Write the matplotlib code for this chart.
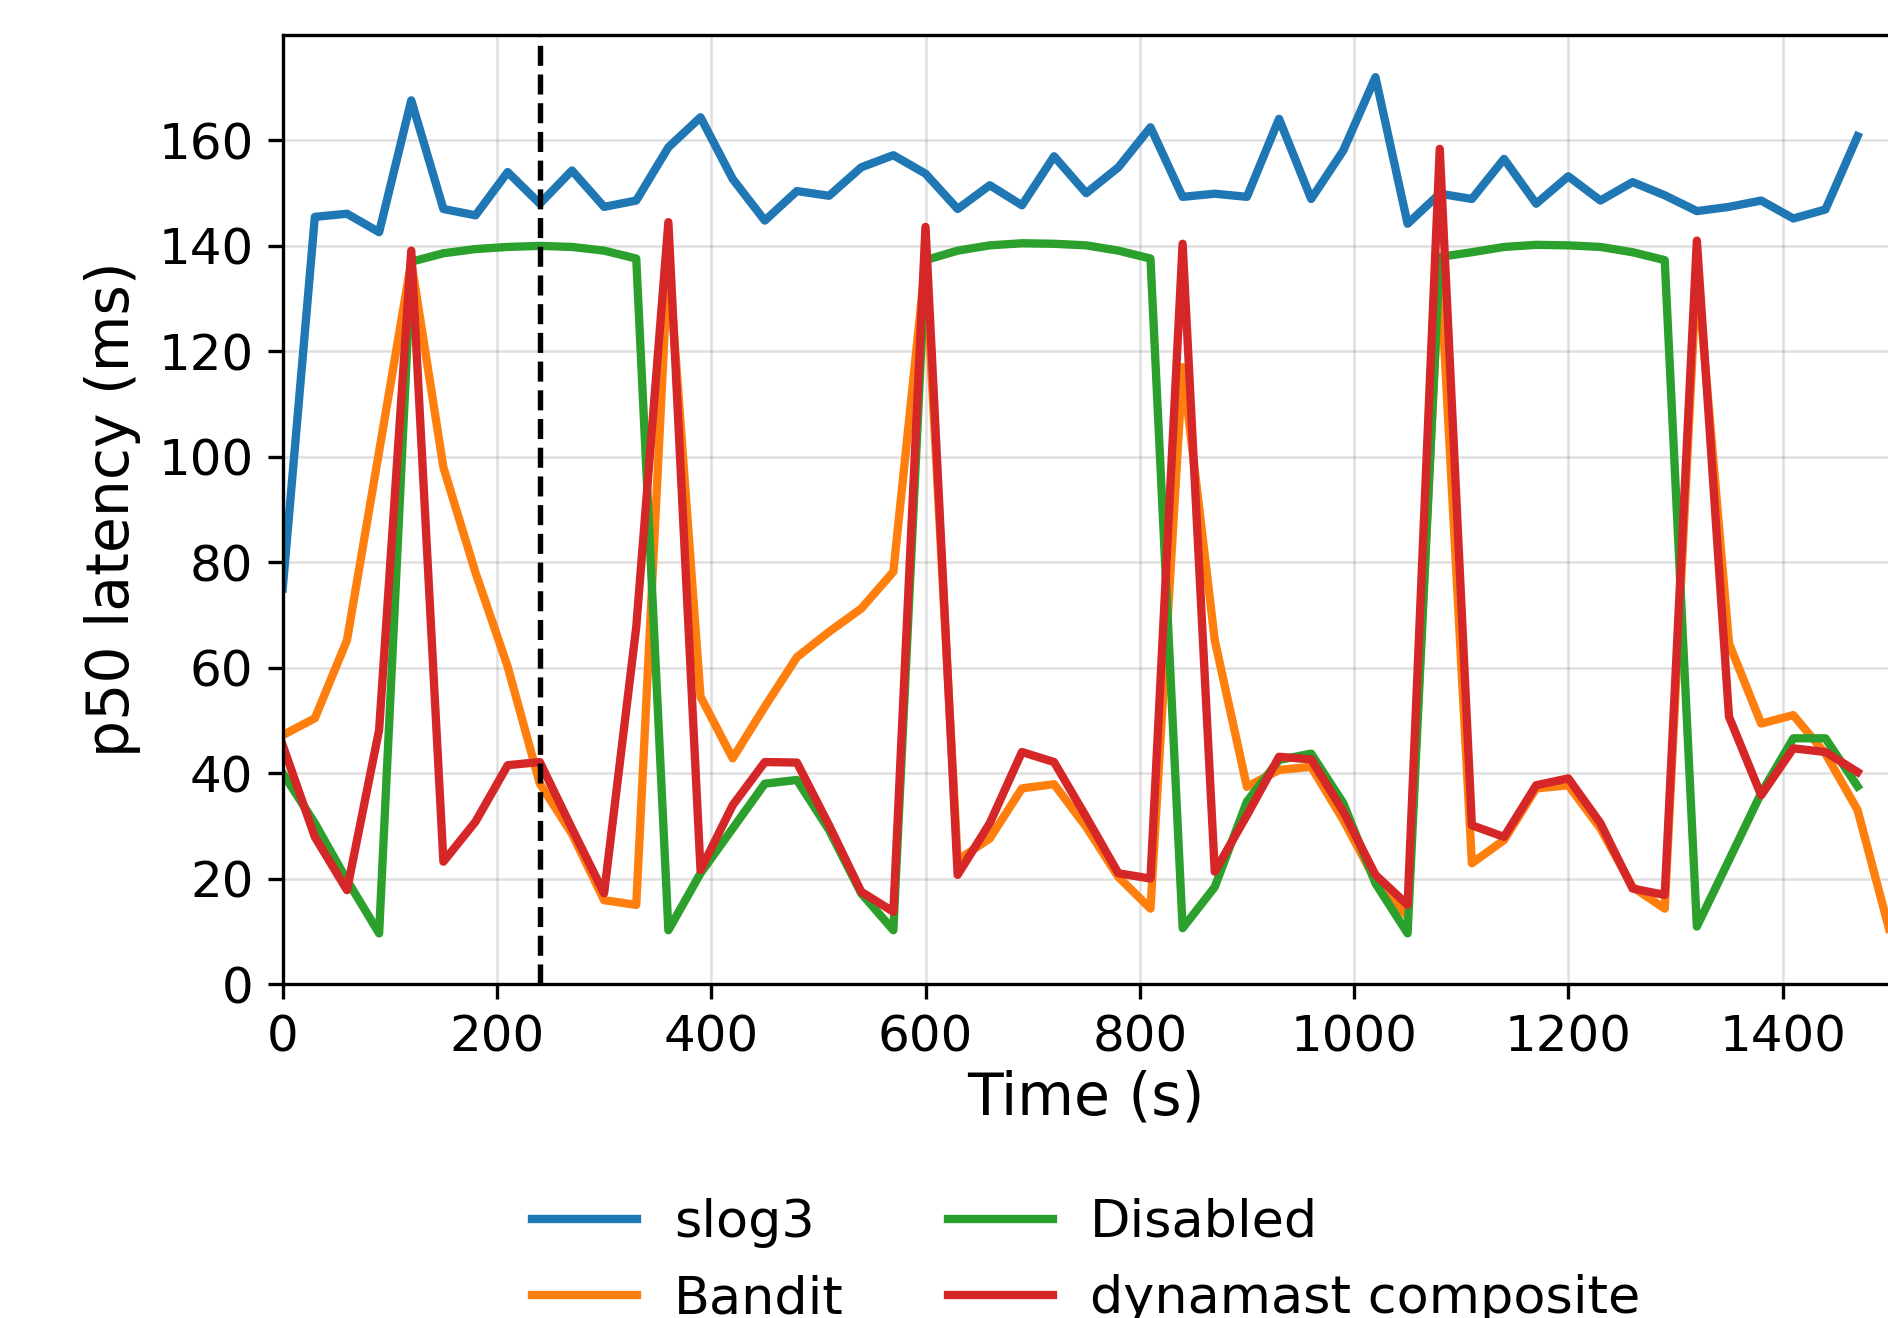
import matplotlib
matplotlib.use('Agg')
import matplotlib.pyplot as plt

# 資料 (每 30 秒取樣)
time_s = list(range(0, 1501, 30))

slog3 = [75.0, 145.5, 146.1, 142.6, 167.6, 147.0, 145.8, 154.0, 148.0, 154.3,
         147.4, 148.6, 158.7, 164.4, 152.7, 144.8, 150.4, 149.5, 154.9, 157.2,
         153.7, 147.0, 151.5, 147.7, 157.0, 150.0, 154.9, 162.5, 149.3, 149.9,
         149.3, 164.1, 148.9, 158.1, 172.0, 144.2, 149.9, 148.9, 156.5, 148.0,
         153.2, 148.6, 152.1, 149.6, 146.6, 147.4, 148.6, 145.2, 146.9, 160.8]

bandit = [47.2, 50.4, 65.2, 101.0, 137.0, 98.0, 78.0, 60.2, 38.0, 28.5,
          15.9, 15.0, 138.0, 54.5, 42.8, 52.6, 62.0, 66.8, 71.2, 78.2,
          137.0, 23.5, 27.6, 37.1, 37.9, 29.8, 20.3, 14.3, 117.0, 65.2,
          37.4, 40.6, 41.2, 31.1, 19.7, 12.8, 137.0, 22.9, 27.3, 37.1,
          37.7, 29.5, 18.4, 14.3, 136.0, 64.6, 49.4, 51.0, 43.7, 33.0,
          10.0]

disabled = [40.0, 30.5, 19.7, 9.6, 137.0, 138.6, 139.4, 139.8, 140.0, 139.8,
            139.1, 137.6, 10.2, 21.0, 29.5, 38.0, 38.7, 29.2, 17.2, 10.2,
            137.3, 139.1, 140.1, 140.5, 140.4, 140.1, 139.1, 137.6, 10.6, 18.4,
            34.6, 42.5, 43.7, 34.3, 19.1, 9.6, 137.9, 138.8, 139.8, 140.2,
            140.1, 139.8, 138.8, 137.3, 10.9, 23.5, 36.2, 46.6, 46.6, 37.5]

composite = [45.3, 27.9, 17.8, 48.2, 139.1, 23.2, 30.8, 41.5, 42.1, 29.5,
             17.2, 67.7, 144.5, 21.6, 33.9, 42.1, 42.0, 30.1, 17.5, 13.7,
             143.6, 20.7, 30.5, 44.0, 42.1, 31.7, 21.0, 20.0, 140.4, 21.3,
             32.0, 43.1, 42.6, 32.7, 20.7, 15.0, 158.4, 30.1, 27.9, 37.7,
             39.0, 30.5, 18.1, 16.9, 141.0, 50.7, 35.8, 44.7, 44.0, 40.2]

marker_t = 240

W, H, DPI = 1888, 1318, 300
fig = plt.figure(figsize=(W / DPI, H / DPI), dpi=DPI)
fig.patch.set_facecolor('white')

# 軸框位置 (像素換算)
x0, x1 = 282.7, 1889.7
y_top, y_bot = 35, 984
ax = fig.add_axes([x0 / W, (H - y_bot) / H, (x1 - x0) / W, (y_bot - y_top) / H])

lw = 2.0
n = len(slog3)
ax.plot(time_s[:n], slog3, color='#1f77b4', lw=lw, label='slog3')
ax.plot(time_s[:len(bandit)], bandit, color='#ff7f0e', lw=lw, label='Bandit')
ax.plot(time_s[:n], disabled, color='#2ca02c', lw=lw, label='Disabled')
ax.plot(time_s[:n], composite, color='#d62728', lw=lw, label='dynamast composite')
ax.axvline(marker_t, color='black', ls='--', lw=1.3)

ax.set_xlim(0, 1500)
ax.set_ylim(0, 180)
ax.set_xticks(range(0, 1401, 200))
ax.set_yticks(range(0, 161, 20))
ax.tick_params(labelsize=12)
ax.grid(True, color='gray', alpha=0.25, lw=0.6)
ax.set_xlabel('Time (s)', fontsize=14, labelpad=2)
ax.set_ylabel('p50 latency (ms)', fontsize=14)

# 圖例在軸下方,原圖底部被裁掉一部分
ax.legend(loc='center', bbox_to_anchor=(0.5, -0.292), ncol=2, frameon=False,
          fontsize=12.6, columnspacing=2.0, handletextpad=0.7)

fig.savefig('out.png', dpi=DPI, facecolor='white')
